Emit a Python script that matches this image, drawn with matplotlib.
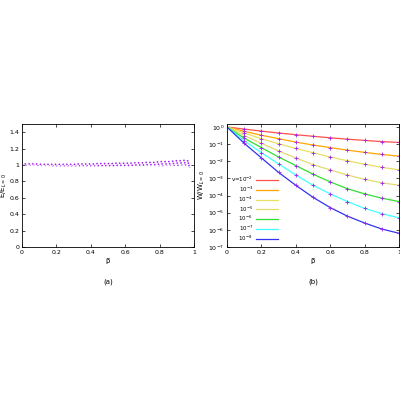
import numpy as np
import matplotlib
matplotlib.use("Agg")
import matplotlib.pyplot as plt

# Panel (a): E/E_{L=0} short slanted marks
beta_a = [round(0.022*i, 3) for i in range(45)]
hi_a = [1.02,1.02,1.02,1.02,1.02,1.015,1.015,1.015,1.015,1.015,1.015,1.015,1.015,1.015,1.015,1.02,1.02,1.02,1.02,1.02,
        1.025,1.025,1.025,1.025,1.025,1.03,1.03,1.03,1.03,1.03,1.035,1.035,1.035,1.04,1.04,1.04,1.045,1.05,1.05,1.05,1.055,1.06,1.06,1.065,1.06]
lo_a = [1.0,0.995,0.995,0.995,0.99,0.99,0.99,0.99,0.985,0.985,0.985,0.985,0.985,0.985,0.985,0.985,0.985,0.985,0.985,0.985,
        0.985,0.985,0.985,0.985,0.985,0.985,0.985,0.985,0.985,0.985,0.985,0.985,0.985,0.985,0.985,0.985,0.985,0.985,0.99,0.99,0.99,0.99,0.995,0.995,0.97]

# Panel (b): log10(W/W_{L=0})
beta_b = [0.0,0.1,0.2,0.3,0.4,0.5,0.6,0.7,0.8,0.9,1.0]
labels_b = ["ν=10$^{-2}$","10$^{-3}$","10$^{-4}$","10$^{-5}$","10$^{-6}$","10$^{-7}$","10$^{-8}$"]
colors_b = ["#ff5050","#ffa500","#e6e060","#e0dc70","#33dd33","#44ffff","#3333ee"]
logw_series = [
    [0,-0.12,-0.24,-0.35,-0.45,-0.54,-0.63,-0.71,-0.78,-0.85,-0.9],
    [0,-0.25,-0.48,-0.68,-0.88,-1.05,-1.2,-1.35,-1.48,-1.6,-1.7],
    [0,-0.35,-0.68,-0.98,-1.25,-1.5,-1.75,-1.97,-2.17,-2.35,-2.5],
    [0,-0.5,-0.95,-1.4,-1.8,-2.2,-2.5,-2.8,-3.05,-3.25,-3.4],
    [0,-0.65,-1.2,-1.75,-2.25,-2.75,-3.2,-3.6,-3.9,-4.15,-4.35],
    [0,-0.8,-1.5,-2.15,-2.8,-3.4,-3.9,-4.35,-4.75,-5.05,-5.3],
    [0,-0.95,-1.8,-2.65,-3.4,-4.1,-4.7,-5.2,-5.6,-5.95,-6.2],
]

plt.rcParams['font.family'] = ['DejaVu Sans']
fig = plt.figure(figsize=(4,4), dpi=100)
axa = fig.add_axes([22/400, 1-247/400, 172/400, 123/400])
axb = fig.add_axes([227/400, 1-247/400, 172/400, 123/400])

for b, h, l in zip(beta_a, hi_a, lo_a):
    axa.plot([b-0.006, b+0.006], [h, l], color="#a020f0", lw=1.1, ls=(0,(1,0.6)))
axa.set_xlim(0,1); axa.set_ylim(0,1.5)
axa.set_xticks([0,0.2,0.4,0.6,0.8,1]); axa.set_xticklabels(["0","0.2","0.4","0.6","0.8","1"])
axa.set_yticks([0,0.2,0.4,0.6,0.8,1,1.2,1.4]); axa.set_yticklabels(["0","0.2","0.4","0.6","0.8","1","1.2","1.4"])
axa.set_xlabel("β", fontsize=5, labelpad=2)
axa.set_ylabel("E/E$_{L=0}$", fontsize=5, labelpad=0.5)
axa.text(0.5, -0.3, "(a)", transform=axa.transAxes, ha="center", fontsize=5)

for lab, c, lw in zip(labels_b, colors_b, logw_series):
    w = [10.0**v for v in lw]
    axb.plot(beta_b, w, color=c, lw=0.9, label=lab)
    axb.plot(beta_b[1:], w[1:], ls="none", marker="+", ms=2.5, mew=0.6, color="#a020f0")
axb.set_yscale("log")
axb.set_xlim(0,1); axb.set_ylim(1e-7, 1.5)
axb.set_xticks([0,0.2,0.4,0.6,0.8,1]); axb.set_xticklabels(["0","0.2","0.4","0.6","0.8","1"])
axb.set_yticks([10.0**k for k in range(-7,1)])
axb.set_yticklabels(["10$^{%d}$" % k for k in range(-7,1)])
axb.minorticks_off()
axb.set_xlabel("β", fontsize=5, labelpad=2)
axb.set_ylabel("W/W$_{L=0}$", fontsize=5, labelpad=1)
axb.text(0.5, -0.3, "(b)", transform=axb.transAxes, ha="center", fontsize=5)
axb.legend(loc="lower left", fontsize=4, frameon=False, markerfirst=False, handlelength=4,
           labelspacing=0.1, borderaxespad=0.3, handletextpad=0.6)

for ax in (axa, axb):
    ax.tick_params(labelsize=4.5, direction="in", length=2, width=0.5, top=True, right=True, pad=2)
    for s in ax.spines.values():
        s.set_linewidth(0.6)

fig.savefig("out.png", dpi=100)
